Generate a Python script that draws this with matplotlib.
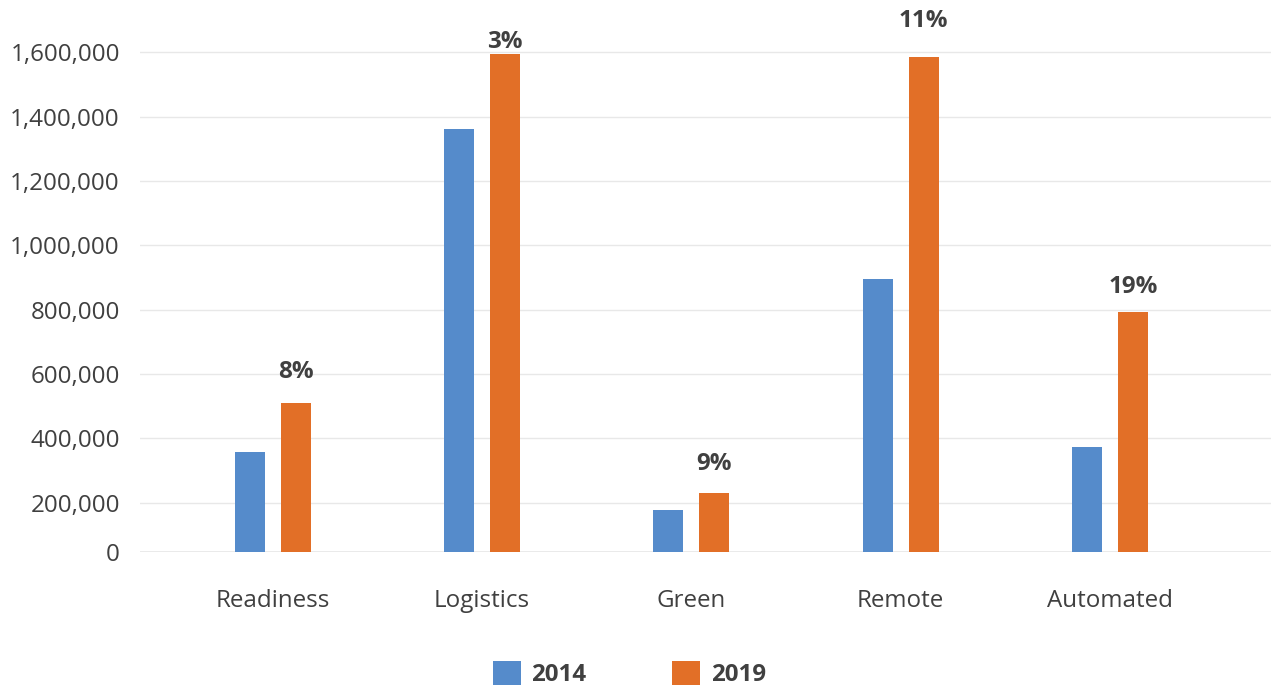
import matplotlib
matplotlib.use("Agg")
import matplotlib.pyplot as plt
from matplotlib.patches import Patch

categories = ["Readiness", "Logistics", "Green", "Remote", "Automated"]
values_2014 = [357000, 1362000, 177000, 895000, 373000]
values_2019 = [510000, 1595000, 230000, 1585000, 793000]
growth_labels = ["8%", "3%", "9%", "11%", "19%"]
label_offsets_pt = [22.5, 8.8, 21, 25.8, 17.8]
series_names = ["2014", "2019"]
ytick_values = [0, 200000, 400000, 600000, 800000, 1000000, 1200000, 1400000, 1600000]

BLUE = "#558BCB"
ORANGE = "#E26F27"
TEXT = "#404040"
GRID = "#E8E8E8"

plt.rcParams['font.family'] = ['Open Sans', 'DejaVu Sans']

W, H = 1271, 687
fig = plt.figure(figsize=(W / 100, H / 100), dpi=100)
ax_left = 140 / W
ax_bottom = 1 - 551.7 / H
ax = fig.add_axes([ax_left, ax_bottom, 1 - ax_left, 551.7 / H])

y_bottom = 47700
y_top = 1762600
ax.set_ylim(y_bottom, y_top)
ax.set_xlim(-0.635, 4.77)

x = list(range(len(categories)))
bw = 0.1435
off = 0.11
ax.bar([i - off for i in x], values_2014, width=bw, color=BLUE, bottom=0, zorder=3)
ax.bar([i + off for i in x], values_2019, width=bw, color=ORANGE, bottom=0, zorder=3)

FS = 17.4
for i, (v, lab, o) in enumerate(zip(values_2019, growth_labels, label_offsets_pt)):
    ax.annotate(lab, (i + off, v), xytext=(0, o), textcoords="offset points",
                ha="center", va="center", fontsize=FS, fontweight="bold",
                color=TEXT, zorder=4)

# y ticks: the lowest gridline (axis baseline) is labelled 0
tick_pos = [y_bottom] + ytick_values[1:]
ax.set_yticks(tick_pos)
ax.set_yticklabels([f"{v:,}" for v in ytick_values])
for p in tick_pos:
    ax.axhline(p, color=GRID, lw=1.3 if p == y_bottom else 1.0, zorder=1)

ax.set_xticks(x)
ax.set_xticklabels(categories)
ax.tick_params(axis="both", length=0, labelsize=FS, colors=TEXT)
ax.tick_params(axis="y", pad=14.5)
ax.tick_params(axis="x", pad=26.5)
for s in ax.spines.values():
    s.set_visible(False)

handles = [Patch(facecolor=BLUE, edgecolor="none"), Patch(facecolor=ORANGE, edgecolor="none")]
leg = fig.legend(handles, series_names, loc="center", bbox_to_anchor=(629.5 / W, 1 - 674 / H),
                 ncol=2, frameon=False, handlelength=1.16, handleheight=1.16,
                 handletextpad=0.45, columnspacing=3.55,
                 prop={"size": FS, "weight": "bold"})
for t in leg.get_texts():
    t.set_color(TEXT)

fig.savefig("out.png", dpi=100)
